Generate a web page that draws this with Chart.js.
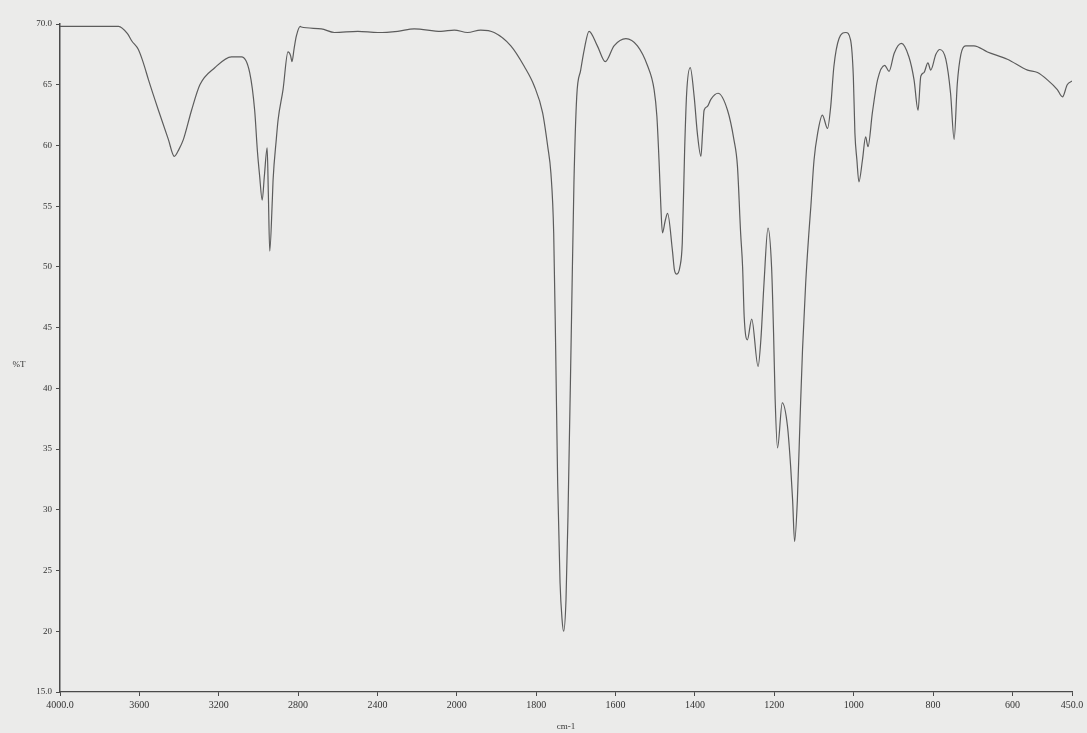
<!DOCTYPE html>
<html>
<head>
<meta charset="utf-8">
<title>IR spectrum</title>
<script src="https://cdn.jsdelivr.net/npm/chart.js@4.4.1/dist/chart.umd.min.js"></script>
<style>
    html, body { margin: 0; padding: 0; background: #ebebea; }
    #spectrum { display: block; }
</style>
</head>
<body>
<canvas id="spectrum" width="1087" height="733"></canvas>
<script>
const wavenumbers = [
    4000, 3900, 3800, 3705, 3660, 3638, 3605, 3580, 3554, 3504, 3454, 3424, 3400, 3378, 3337, 3295,
    3220, 3136, 3085, 3044, 3019, 3005, 2994, 2981, 2970, 2956, 2950, 2943, 2930, 2926, 2910, 2901,
    2876, 2851, 2838, 2831, 2820, 2809, 2789, 2784, 2683, 2617, 2499, 2399, 2298, 2215, 2080, 2013,
    1973, 1940, 1906, 1864, 1830, 1805, 1784, 1771, 1763, 1756, 1751, 1746, 1740, 1735, 1731, 1725,
    1720, 1711, 1705, 1698, 1688, 1679, 1667, 1646, 1626, 1604, 1574, 1545, 1520, 1503, 1496, 1490,
    1486, 1482, 1475, 1469, 1457, 1452, 1446, 1438, 1432, 1426, 1421, 1412, 1402, 1394, 1385, 1381,
    1377, 1369, 1360, 1342, 1318, 1302, 1293, 1285, 1280, 1276, 1268, 1257, 1241, 1234, 1226, 1216,
    1207, 1202, 1198, 1192, 1180, 1167, 1159, 1154, 1149, 1142, 1135, 1129, 1121, 1113, 1108, 1100,
    1091, 1079, 1066, 1058, 1050, 1037, 1020, 1008, 1001, 997, 992, 987, 978, 970, 964, 953,
    940, 922, 911, 898, 880, 861, 848, 838, 831, 823, 813, 806, 793, 783, 768, 756,
    747, 739, 730, 718, 697, 663, 613, 562, 537, 512, 487, 474, 462, 450
];
const transmittance = [
    69.8, 69.8, 69.8, 69.8, 69.2, 68.6, 67.9, 66.8, 65.4, 62.9, 60.5, 59.1, 59.7, 60.5, 62.9, 65.0,
    66.4, 67.3, 67.3, 66.0, 62.9, 59.5, 57.5, 55.5, 57.5, 59.8, 56.0, 51.3, 55.5, 57.2, 60.5, 62.1,
    64.6, 67.7, 67.4, 66.9, 68.0, 69.0, 69.8, 69.75, 69.6, 69.3, 69.4, 69.3, 69.4, 69.6, 69.4, 69.5,
    69.3, 69.5, 69.3, 68.2, 66.5, 64.9, 62.7, 59.9, 57.7, 52.8, 43.2, 32.2, 24.0, 21.0, 20.0, 22.6,
    29.5, 45.9, 56.9, 64.0, 66.2, 67.9, 69.4, 68.2, 66.9, 68.2, 68.8, 68.2, 66.6, 64.6, 62.4, 58.3,
    55.0, 52.8, 53.8, 54.4, 51.4, 49.8, 49.4, 50.0, 52.0, 59.7, 64.3, 66.4, 64.0, 61.0, 59.1, 61.0,
    62.9, 63.2, 63.8, 64.3, 62.9, 60.5, 58.3, 52.8, 50.0, 45.9, 44.0, 45.7, 41.8, 44.0, 48.7, 53.2,
    50.0, 44.6, 39.1, 35.1, 38.8, 36.9, 33.6, 30.8, 27.4, 30.8, 37.7, 43.2, 48.7, 52.8, 55.0, 58.8,
    61.0, 62.5, 61.4, 63.2, 66.5, 68.8, 69.3, 68.7, 65.7, 61.0, 58.8, 57.0, 58.8, 60.7, 59.9, 62.7,
    65.4, 66.6, 66.1, 67.6, 68.4, 67.3, 65.4, 62.9, 65.7, 66.0, 66.8, 66.2, 67.5, 67.9, 67.1, 64.3,
    60.5, 65.1, 67.5, 68.2, 68.2, 67.7, 67.1, 66.2, 66.0, 65.4, 64.6, 64.0, 65.0, 65.3
];
const xTickValues = [4000, 3600, 3200, 2800, 2400, 2000, 1800, 1600, 1400, 1200, 1000, 800, 600, 450];
const xTickLabels = ['4000.0', '3600', '3200', '2800', '2400', '2000', '1800', '1600', '1400', '1200', '1000', '800', '600', '450.0'];
const yTickValues = [15, 20, 25, 30, 35, 40, 45, 50, 55, 60, 65, 70];
const yTickLabels = ['15.0', '20', '25', '30', '35', '40', '45', '50', '55', '60', '65', '70.0'];

// the instrument plots 4000-2000 at half the scale used below 2000
function toAxis(wn) {
    return wn >= 2000 ? (4000 - wn) / 2 : 1000 + (2000 - wn);
}

const inkColor = '#4a4a4a';

const sideLabel = {
    id: 'sideLabel',
    afterDraw(chart) {
        const ctx = chart.ctx;
        ctx.save();
        ctx.font = '9px "Liberation Serif"';
        ctx.fillStyle = '#333';
        ctx.textAlign = 'center';
        ctx.textBaseline = 'middle';
        ctx.fillText('%T', 19, 365);
        ctx.restore();
    }
};

Chart.defaults.font.family = '"Liberation Serif", serif';

const ctx = document.getElementById('spectrum').getContext('2d');
new Chart(ctx, {
    type: 'line',
    data: {
        datasets: [{
            label: '%T',
            data: wavenumbers.map((wn, i) => ({ x: toAxis(wn), y: transmittance[i] })),
            borderColor: '#5c5c5c',
            borderWidth: 1.2,
            pointRadius: 0,
            cubicInterpolationMode: 'monotone',
            fill: false
        }]
    },
    options: {
        responsive: false,
        animation: false,
        layout: {
            padding: { left: 0, right: 15, top: 24, bottom: 0 }
        },
        plugins: {
            legend: { display: false },
            tooltip: { enabled: false }
        },
        scales: {
            x: {
                type: 'linear',
                min: 0,
                max: toAxis(450),
                afterFit: (scale) => { scale.height = 41; },
                afterBuildTicks: (scale) => {
                    scale.ticks = xTickValues.map(wn => ({ value: toAxis(wn) }));
                },
                ticks: {
                    autoSkip: false,
                    maxRotation: 0,
                    padding: 3,
                    color: '#333',
                    font: { size: 10 },
                    callback: (value, index) => xTickLabels[index]
                },
                grid: {
                    drawOnChartArea: false,
                    drawTicks: true,
                    tickLength: 4,
                    color: inkColor
                },
                border: { color: inkColor, width: 1.2 },
                title: {
                    display: true,
                    text: 'cm-1',
                    color: '#333',
                    font: { size: 9 },
                    padding: { top: 0, bottom: 1 }
                }
            },
            y: {
                min: 15,
                max: 70,
                afterFit: (scale) => { scale.width = 60; },
                afterBuildTicks: (scale) => {
                    scale.ticks = yTickValues.map(v => ({ value: v }));
                },
                ticks: {
                    autoSkip: false,
                    padding: 4,
                    color: '#333',
                    font: { size: 9 },
                    callback: (value, index) => yTickLabels[index]
                },
                grid: {
                    drawOnChartArea: false,
                    drawTicks: true,
                    tickLength: 4,
                    color: inkColor
                },
                border: { color: inkColor, width: 1.5 }
            }
        }
    },
    plugins: [sideLabel]
});
</script>
</body>
</html>
